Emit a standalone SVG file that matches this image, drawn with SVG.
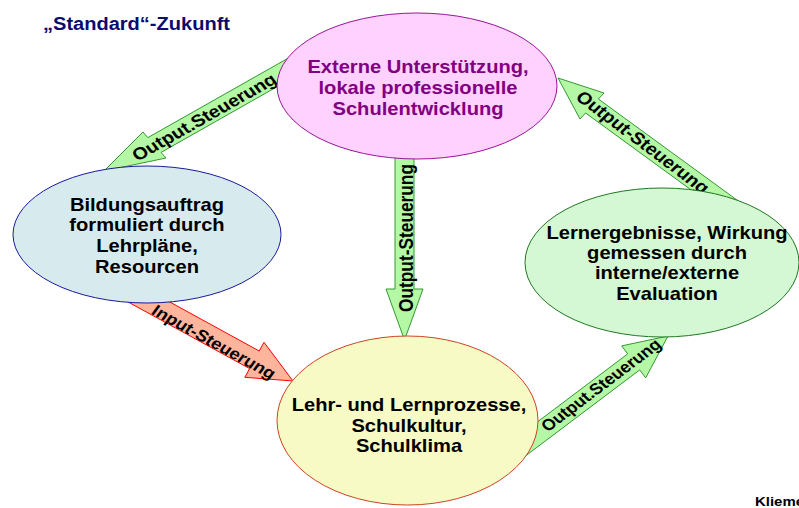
<svg xmlns="http://www.w3.org/2000/svg" width="799" height="508" viewBox="0 0 799 508">
<style>
text{font-family:"Liberation Sans",Arial,sans-serif;font-weight:bold}
.nt{font-size:17.5px;text-anchor:middle;fill:#000}
.purple{fill:#800080}
.at{font-size:17px;text-anchor:middle;dominant-baseline:central;fill:#000}
.at16{font-size:16px}
.ga{fill:#B4F7A4;stroke:#339933;stroke-width:1}
.ra{fill:#FFB49C;stroke:#FF0000;stroke-width:1}
</style>
<rect width="799" height="508" fill="#fff"/>
<text x="43" y="30" font-size="18" fill="#0B0B6E" textLength="187" lengthAdjust="spacingAndGlyphs">„Standard“-Zukunft</text>
<g id="connectors">
<g id="arrow-top-left">
<polygon class="ga" points="304.5,48.9 147.9,137.6 143,132 104,171 166,158 161.1,152.4 317.7,63.7"/>
<text class="at" transform="translate(204,117) scale(1.15,1) rotate(-33.06)" textLength="146" lengthAdjust="spacingAndGlyphs">Output.Steuerung</text>
</g>
<g id="arrow-top-right">
<polygon class="ga" points="747.9,208 598.4,99 604,93 558,78 580,119 585.6,113 735.1,222"/>
<text class="at" transform="translate(643,142) scale(1.15,1) rotate(40.9)" textLength="147" lengthAdjust="spacingAndGlyphs">Output-Steuerung</text>
</g>
<g id="arrow-vertical">
<polygon class="ga" points="395,150 395,289 386,289 404.5,340 423,289 414,289 414,150"/>
<text class="at" transform="translate(406,238) scale(1.15,1) rotate(-90)" textLength="148" lengthAdjust="spacingAndGlyphs">Output-Steuerung</text>
</g>
<g id="arrow-input">
<polygon class="ra" points="112.8,293.6 249.6,368.6 244.8,377.3 293,381 264,342.3 259.2,351 122.4,276"/>
<text class="at at16" transform="translate(214,342) scale(1.15,1) rotate(32.3)" textLength="124" lengthAdjust="spacingAndGlyphs">Input-Steuerung</text>
</g>
<g id="arrow-bottom-right">
<polygon class="ga" points="514.3,464.4 639.7,369.9 645.7,377.9 668,336 621.7,345.9 627.7,353.9 502.3,448.4"/>
<text class="at at16" transform="translate(601,385) scale(1.15,1) rotate(-40.9)" textLength="132" lengthAdjust="spacingAndGlyphs">Output.Steuerung</text>
</g>
</g>
<g id="node-top">
<ellipse cx="417" cy="86" rx="140" ry="73" fill="#FFD1FF" stroke="#99149A" stroke-width="1"/>
<g transform="translate(418,0) scale(1.15,1)">
<text class="nt purple" x="0" y="73">Externe Unterstützung,</text>
<text class="nt purple" x="0" y="94">lokale professionelle</text>
<text class="nt purple" x="0" y="115">Schulentwicklung</text>
</g>
</g>
<g id="node-left">
<ellipse cx="147" cy="234.5" rx="134" ry="68.5" fill="#D7EBEE" stroke="#1A1A99" stroke-width="1"/>
<g transform="translate(147,0) scale(1.15,1)">
<text class="nt" x="0" y="211">Bildungsauftrag</text>
<text class="nt" x="0" y="231">formuliert durch</text>
<text class="nt" x="0" y="252">Lehrpläne,</text>
<text class="nt" x="0" y="273">Resourcen</text>
</g>
</g>
<g id="node-right">
<ellipse cx="662" cy="262.5" rx="137" ry="74.5" fill="#D3F8D3" stroke="#227722" stroke-width="1"/>
<g transform="translate(667,0) scale(1.15,1)">
<text class="nt" x="0" y="239">Lernergebnisse, Wirkung</text>
<text class="nt" x="0" y="259">gemessen durch</text>
<text class="nt" x="0" y="279">interne/externe</text>
<text class="nt" x="0" y="300">Evaluation</text>
</g>
</g>
<g id="node-bottom">
<ellipse cx="407.5" cy="420.5" rx="130.5" ry="84.5" fill="#F7FAC5" stroke="#CC4422" stroke-width="1"/>
<g transform="translate(409,0) scale(1.15,1)">
<text class="nt" x="0" y="411">Lehr- und Lernprozesse,</text>
<text class="nt" x="0" y="432">Schulkultur,</text>
<text class="nt" x="0" y="452">Schulklima</text>
</g>
</g>
<text transform="translate(755,506) scale(1.15,1)" font-size="13" fill="#000">Klieme</text>
</svg>
